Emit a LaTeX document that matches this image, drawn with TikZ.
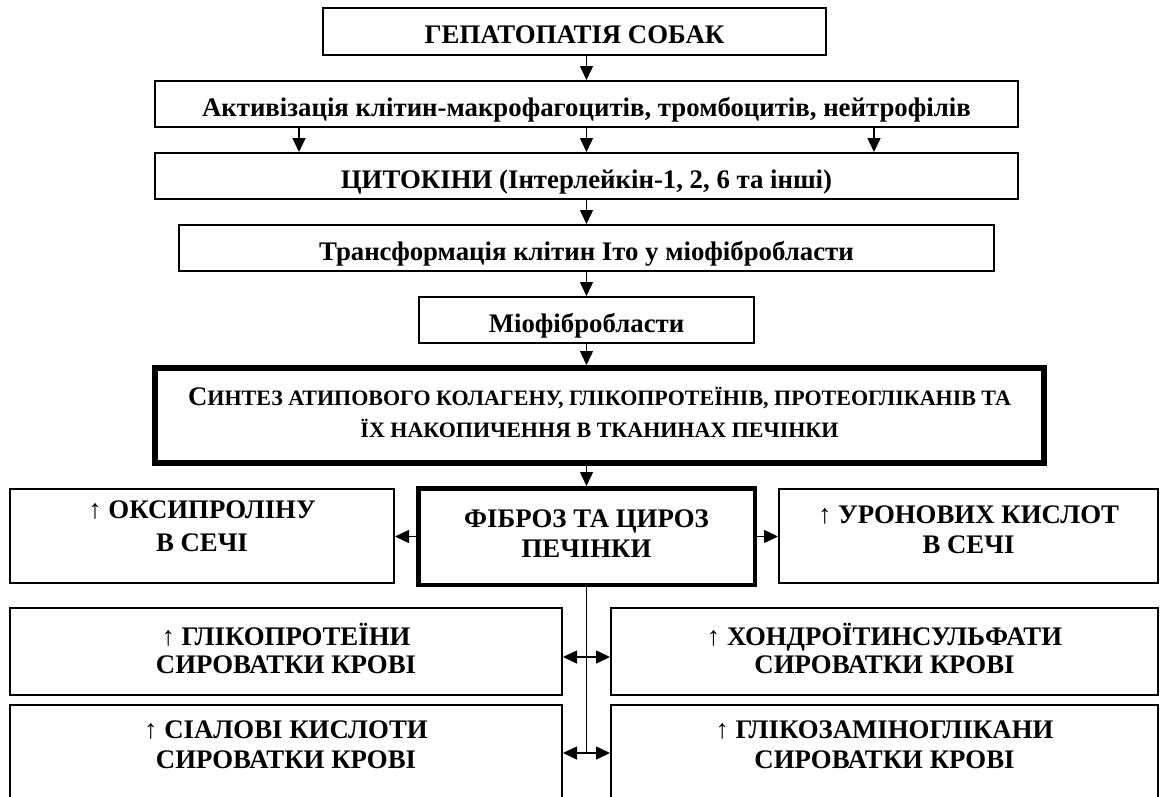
\documentclass[tikz,border=0pt]{standalone}
\usepackage{fontspec}
\setmainfont{Liberation Serif}
\usepackage{tikz}
\usetikzlibrary{arrows.meta,positioning}
\newcommand{\minicaps}[1]{{\fontsize{22}{32}\selectfont #1}}

\begin{document}
\begin{tikzpicture}[x=1pt,y=-1pt,
  box/.style={draw, line width=2pt, inner sep=0pt, align=center, font=\fontsize{26.8}{30}\selectfont\bfseries, text height=24pt, text depth=0pt},
  arr/.style={-{Triangle[length=14pt,width=13pt]}, line width=1.5pt},
  dbl/.style={{Triangle[length=14pt,width=13pt]}-{Triangle[length=14pt,width=13pt]}, line width=1.5pt}]
\useasboundingbox (0,0) rectangle (1160,796);
\clip (0,0) rectangle (1160,796);
\node[box, minimum width=503pt, minimum height=47pt] (gep) at (574.5,31.5) {ГЕПАТОПАТІЯ СОБАК};
\node[box, minimum width=863pt, minimum height=46pt] (activ) at (586.5,104) {Активізація клітин-макрофагоцитів, тромбоцитів, нейтрофілів};
\node[box, minimum width=863pt, minimum height=46pt] (cyto) at (586.5,176) {ЦИТОКІНИ (Інтерлейкін-1, 2, 6 та інші)};
\node[box, minimum width=815pt, minimum height=46pt] (transf) at (586.5,248) {Трансформація клітин Іто у міофібробласти};
\node[box, minimum width=335pt, minimum height=46pt] (miof) at (586.5,320) {Міофібробласти};
\node[box, line width=6pt, minimum width=889pt, minimum height=95pt, text height=43pt, font=\fontsize{26.8}{32}\selectfont\bfseries] (synth) at (599.5,415.5) {С\minicaps{ИНТЕЗ АТИПОВОГО КОЛАГЕНУ, ГЛІКОПРОТЕЇНІВ, ПРОТЕОГЛІКАНІВ ТА}\\\minicaps{ЇХ НАКОПИЧЕННЯ В ТКАНИНАХ ПЕЧІНКИ}};
\node[box, line width=4.5pt, minimum width=336.5pt, minimum height=96.5pt, text height=41pt] (fibr) at (586.5,536.5) {ФІБРОЗ ТА ЦИРОЗ\\ПЕЧІНКИ};
\node[box, minimum width=384pt, minimum height=94pt, text height=30pt] (oksi) at (202,536) {↑ ОКСИПРОЛІНУ\\[3pt]В СЕЧІ};
\node[box, minimum width=379pt, minimum height=94pt, text height=34pt] (uron) at (968.5,536) {↑ УРОНОВИХ КИСЛОТ\\В СЕЧІ};
\node[box, minimum width=552pt, minimum height=87pt, text height=43pt] (glyko) at (286,651.5) {↑ ГЛІКОПРОТЕЇНИ\\[-2pt]СИРОВАТКИ КРОВІ};
\node[box, minimum width=547pt, minimum height=87pt, text height=43pt] (chondr) at (884.5,651.5) {↑ ХОНДРОЇТИНСУЛЬФАТИ\\[-2pt]СИРОВАТКИ КРОВІ};
\node[box, minimum width=552pt, minimum height=144pt, text height=20pt, text depth=38pt] (sial) at (286,777) {↑ СІАЛОВІ КИСЛОТИ\\СИРОВАТКИ КРОВІ};
\node[box, minimum width=547pt, minimum height=144pt, text height=20pt, text depth=38pt] (glikoz) at (884.5,777) {↑ ГЛІКОЗАМІНОГЛІКАНИ\\СИРОВАТКИ КРОВІ};
\coordinate (vmid) at (586.5,657);
\coordinate (vend) at (586.5,753);
\draw[arr] (gep.south -| activ.north) -- (activ.north);
\draw[arr] ([xshift=-287.5pt]activ.south) -- ([xshift=-287.5pt]cyto.north);
\draw[arr] (activ.south) -- (cyto.north);
\draw[arr] ([xshift=287.5pt]activ.south) -- ([xshift=287.5pt]cyto.north);
\draw[arr] (cyto.south) -- (transf.north);
\draw[arr] (transf.south) -- (miof.north);
\draw[arr] (miof.south) -- (miof.south |- synth.north);
\draw[arr] (synth.south -| fibr.north) -- (fibr.north);
\draw[arr] (fibr.west) -- (fibr.west -| oksi.east);
\draw[arr] (fibr.east) -- (fibr.east -| uron.west);
\draw[line width=1.5pt] (fibr.south) -- (vend);
\draw[dbl] (glyko.east |- vmid) -- (chondr.west |- vmid);
\draw[dbl] (sial.east |- vend) -- (glikoz.west |- vend);
\end{tikzpicture}
\end{document}
